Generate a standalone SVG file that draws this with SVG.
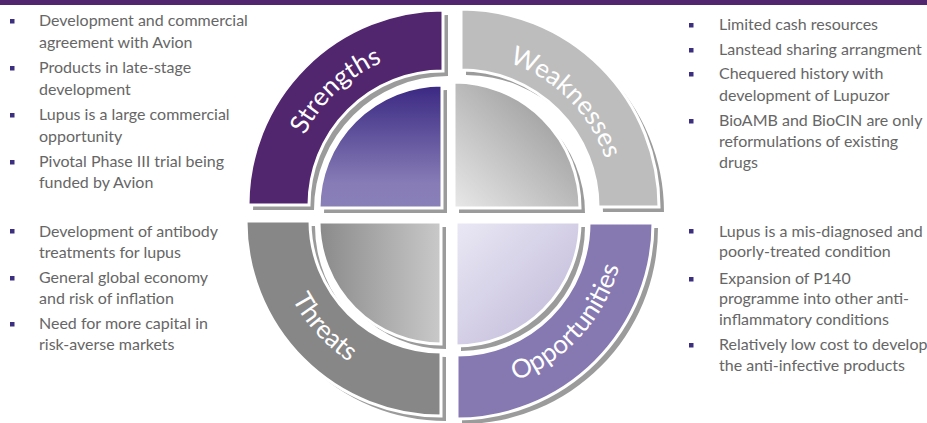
<svg xmlns="http://www.w3.org/2000/svg" width="927" height="423" viewBox="0 0 927 423">
  <style>
    .item { font-family: Lato, "Open Sans", "Liberation Sans", sans-serif; font-size: 16px; fill: #666666; }
    .bullet { fill: #3c2f80; }
    .label { font-family: Lato, "Open Sans", "Liberation Sans", sans-serif; font-size: 26px; fill: #ffffff; }
    .shadow { fill: #9b9b9b; }
    .edge { stroke: #ffffff; stroke-width: 3; stroke-linejoin: miter; }
  </style>
  <defs>
    <linearGradient id="gS" gradientUnits="userSpaceOnUse" x1="0" y1="85" x2="0" y2="208">
      <stop offset="0" stop-color="#3a2882"/>
      <stop offset="0.8" stop-color="#877cb6"/>
      <stop offset="1" stop-color="#8a80b8"/>
    </linearGradient>
    <linearGradient id="gW" gradientUnits="userSpaceOnUse" x1="454" y1="208" x2="545" y2="117">
      <stop offset="0" stop-color="#e8e8e8"/>
      <stop offset="1" stop-color="#a6a6a6"/>
    </linearGradient>
    <linearGradient id="gT" gradientUnits="userSpaceOnUse" x1="319" y1="0" x2="441" y2="0">
      <stop offset="0" stop-color="#8a8a8a"/>
      <stop offset="1" stop-color="#c9c9c9"/>
    </linearGradient>
    <linearGradient id="gO" gradientUnits="userSpaceOnUse" x1="456" y1="222" x2="544" y2="310">
      <stop offset="0" stop-color="#eae8f5"/>
      <stop offset="1" stop-color="#cac4df"/>
    </linearGradient>
    <!-- baselines for the curved quadrant titles -->
    <path id="arcS" d="M 288,205 A 155 155 0 0 1 443,50"/>
    <path id="arcW" d="M 461,55 A 152 152 0 0 1 613,207"/>
    <path id="arcT" d="M 273,221 A 168 168 0 0 0 441,389"/>
    <path id="arcO" d="M 457,391 A 168 168 0 0 0 625,223"/>
  </defs>

  <!-- header rule -->
  <rect x="0" y="0" width="927" height="5" fill="#52266f"/>

  <!-- Strengths quadrant -->
  <g id="strengths">
    <path class="shadow" transform="translate(5,5)" d="M 248,205 A 195 195 0 0 1 443,10 L 443,71 A 134 134 0 0 0 309,205 Z"/>
    <path class="edge" fill="#52266f" d="M 248,205 A 195 195 0 0 1 443,10 L 443,71 A 134 134 0 0 0 309,205 Z"/>
    <path class="shadow" transform="translate(5,5)" d="M 319,208 A 123 123 0 0 1 442,85 L 442,208 Z"/>
    <path class="edge" fill="url(#gS)" d="M 319,208 A 123 123 0 0 1 442,85 L 442,208 Z"/>
    <text class="label"><textPath href="#arcS" startOffset="52%" text-anchor="middle">Strengths</textPath></text>
  </g>

  <!-- Weaknesses quadrant -->
  <g id="weaknesses">
    <path class="shadow" transform="translate(5,5)" d="M 461,9 A 198 198 0 0 1 659,207 L 598,207 A 137 137 0 0 0 461,70 Z"/>
    <path class="edge" fill="#bdbdbd" d="M 461,9 A 198 198 0 0 1 659,207 L 598,207 A 137 137 0 0 0 461,70 Z"/>
    <path class="shadow" transform="translate(5,5)" d="M 454,82 A 126 126 0 0 1 580,208 L 454,208 Z"/>
    <path class="edge" fill="url(#gW)" d="M 454,82 A 126 126 0 0 1 580,208 L 454,208 Z"/>
    <text class="label"><textPath href="#arcW" startOffset="50%" text-anchor="middle">Weaknesses</textPath></text>
  </g>

  <!-- Threats quadrant -->
  <g id="threats">
    <path class="shadow" transform="translate(5,5)" d="M 246,221 L 310,221 A 131 131 0 0 0 441,352 L 441,416 A 195 195 0 0 1 246,221 Z"/>
    <path class="edge" fill="#878787" d="M 246,221 L 310,221 A 131 131 0 0 0 441,352 L 441,416 A 195 195 0 0 1 246,221 Z"/>
    <path class="shadow" transform="translate(5,5)" d="M 319,222 L 441,222 L 441,344 A 122 122 0 0 1 319,222 Z"/>
    <path class="edge" fill="url(#gT)" d="M 319,222 L 441,222 L 441,344 A 122 122 0 0 1 319,222 Z"/>
    <text class="label"><textPath href="#arcT" startOffset="47%" text-anchor="middle">Threats</textPath></text>
  </g>

  <!-- Opportunities quadrant -->
  <g id="opportunities">
    <path class="shadow" transform="translate(5,5)" d="M 589,223 L 653,223 A 196 196 0 0 1 457,419 L 457,355 A 132 132 0 0 0 589,223 Z"/>
    <path class="edge" fill="#8679b2" d="M 589,223 L 653,223 A 196 196 0 0 1 457,419 L 457,355 A 132 132 0 0 0 589,223 Z"/>
    <path class="shadow" transform="translate(5,5)" d="M 456,222 L 580,222 A 124 124 0 0 1 456,346 Z"/>
    <path class="edge" fill="url(#gO)" d="M 456,222 L 580,222 A 124 124 0 0 1 456,346 Z"/>
    <text class="label"><textPath href="#arcO" startOffset="53%" text-anchor="middle">Opportunities</textPath></text>
  </g>

  <!-- Strengths list -->
  <g id="list-strengths">
    <rect class="bullet" x="10" y="19" width="4.5" height="4.5"/>
    <text class="item" x="39" y="26">Development and commercial</text>
    <text class="item" x="39" y="48">agreement with Avion</text>
    <rect class="bullet" x="10" y="66" width="4.5" height="4.5"/>
    <text class="item" x="39" y="73">Products in late-stage</text>
    <text class="item" x="39" y="95">development</text>
    <rect class="bullet" x="10" y="113" width="4.5" height="4.5"/>
    <text class="item" x="39" y="120">Lupus is a large commercial</text>
    <text class="item" x="39" y="142">opportunity</text>
    <rect class="bullet" x="10" y="160" width="4.5" height="4.5"/>
    <text class="item" x="39" y="167">Pivotal Phase III trial being</text>
    <text class="item" x="39" y="188">funded by Avion</text>
  </g>

  <!-- Threats list -->
  <g id="list-threats">
    <rect class="bullet" x="10" y="229" width="4.5" height="4.5"/>
    <text class="item" x="39" y="237">Development of antibody</text>
    <text class="item" x="39" y="258">treatments for lupus</text>
    <rect class="bullet" x="10" y="276" width="4.5" height="4.5"/>
    <text class="item" x="39" y="283">General global economy</text>
    <text class="item" x="39" y="304">and risk of inflation</text>
    <rect class="bullet" x="10" y="322" width="4.5" height="4.5"/>
    <text class="item" x="39" y="329">Need for more capital in</text>
    <text class="item" x="39" y="350">risk-averse markets</text>
  </g>

  <!-- Weaknesses list -->
  <g id="list-weaknesses">
    <rect class="bullet" x="689" y="23" width="4.5" height="4.5"/>
    <text class="item" x="719" y="30">Limited cash resources</text>
    <rect class="bullet" x="689" y="48" width="4.5" height="4.5"/>
    <text class="item" x="719" y="55">Lanstead sharing arrangment</text>
    <rect class="bullet" x="689" y="72" width="4.5" height="4.5"/>
    <text class="item" x="719" y="79">Chequered history with</text>
    <text class="item" x="719" y="101">development of Lupuzor</text>
    <rect class="bullet" x="689" y="119" width="4.5" height="4.5"/>
    <text class="item" x="719" y="126">BioAMB and BioCIN are only</text>
    <text class="item" x="719" y="147">reformulations of existing</text>
    <text class="item" x="719" y="168">drugs</text>
  </g>

  <!-- Opportunities list -->
  <g id="list-opportunities">
    <rect class="bullet" x="689" y="229" width="4.5" height="4.5"/>
    <text class="item" x="719" y="237">Lupus is a mis-diagnosed and</text>
    <text class="item" x="719" y="257">poorly-treated condition</text>
    <rect class="bullet" x="689" y="277" width="4.5" height="4.5"/>
    <text class="item" x="719" y="284">Expansion of P140</text>
    <text class="item" x="719" y="304">programme into other anti-</text>
    <text class="item" x="719" y="325">inflammatory conditions</text>
    <rect class="bullet" x="689" y="343" width="4.5" height="4.5"/>
    <text class="item" x="719" y="350">Relatively low cost to develop</text>
    <text class="item" x="719" y="371">the anti-infective products</text>
  </g>
</svg>
